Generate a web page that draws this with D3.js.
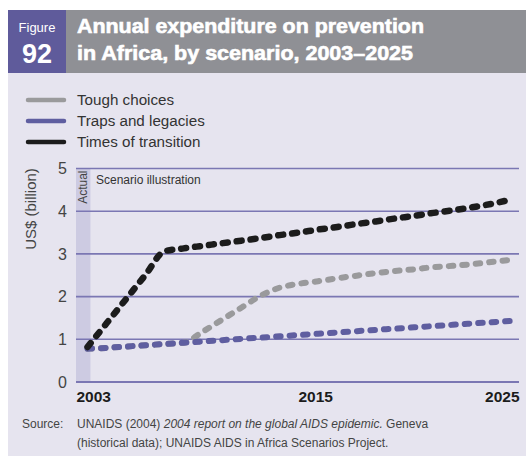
<!DOCTYPE html>
<html>
<head>
<meta charset="utf-8">
<script src="https://cdn.jsdelivr.net/npm/d3@7"></script>
<style>
  html, body { margin: 0; padding: 0; background: #ffffff; }
  svg { display: block; font-family: "Liberation Sans", Arial, Helvetica, sans-serif; }
</style>
</head>
<body>
<svg id="chart" width="526" height="461"></svg>
<script>
// Annual expenditure on prevention in Africa, US$ billion, by scenario
const years = d3.range(2003, 2026);
const toughChoices = [0.78, 0.80, 0.83, 0.86, 0.89, 0.92, 1.18, 1.46, 1.74, 2.02, 2.21, 2.30,
                      2.36, 2.43, 2.49, 2.55, 2.60, 2.64, 2.69, 2.72, 2.76, 2.81, 2.86];
const trapsAndLegacies = [0.78, 0.80, 0.83, 0.86, 0.89, 0.92, 0.95, 0.98, 1.01, 1.04, 1.07, 1.10,
                          1.13, 1.16, 1.19, 1.22, 1.25, 1.28, 1.31, 1.34, 1.37, 1.40, 1.43];
const timesOfTransition = [0.82, 1.38, 1.94, 2.50, 3.06, 3.13, 3.19, 3.25, 3.31, 3.37, 3.44, 3.50,
                           3.57, 3.63, 3.70, 3.76, 3.83, 3.89, 3.96, 4.02, 4.09, 4.17, 4.27];
const seriesNames = ["Tough choices", "Traps and legacies", "Times of transition"];
const seriesColors = ["#9a9a9c", "#5f5ea0", "#1c1c1c"];
const yTicks = [0, 1, 2, 3, 4, 5];
const xTicks = [2003, 2015, 2025];
const actualYears = [2002.4, 2003.15];

const svg = d3.select("#chart");

// panel background
svg.append("rect").attr("x", 8).attr("y", 73).attr("width", 518).attr("height", 383).attr("fill", "#e6e4ef");

// header
svg.append("rect").attr("x", 8).attr("y", 10).attr("width", 58).attr("height", 63).attr("fill", "#5f5b9b");
svg.append("rect").attr("x", 66).attr("y", 10).attr("width", 460).attr("height", 63).attr("fill", "#8f9095");
svg.append("text").attr("x", 37).attr("y", 32).attr("text-anchor", "middle")
  .attr("fill", "#ffffff").attr("font-size", 13).attr("font-family", "'Liberation Sans Narrow', 'Liberation Sans', Arial")
  .text("Figure");
svg.append("text").attr("x", 37).attr("y", 63).attr("text-anchor", "middle")
  .attr("fill", "#ffffff").attr("font-size", 27).attr("font-weight", "bold")
  .attr("font-family", "'Liberation Sans Narrow', 'Liberation Sans', Arial")
  .text("92");
const titleLines = ["Annual expenditure on prevention", "in Africa, by scenario, 2003\u20132025"];
const titleWidths = [347, 336];
svg.append("g").selectAll("text").data(titleLines).join("text")
  .attr("x", 77).attr("y", (d, i) => 33 + i * 27)
  .attr("fill", "#ffffff").attr("font-size", 20).attr("font-weight", "bold")
  .attr("font-family", "'Liberation Sans', Arial")
  .attr("stroke", "#ffffff").attr("stroke-width", 0.6)
  .attr("textLength", (d, i) => titleWidths[i]).attr("lengthAdjust", "spacingAndGlyphs")
  .text(d => d);

// legend
const legend = svg.append("g");
seriesNames.forEach((name, i) => {
  const y = 100 + i * 21;
  legend.append("line").attr("x1", 28).attr("x2", 64).attr("y1", y).attr("y2", y)
    .attr("stroke", seriesColors[i]).attr("stroke-width", 4.5).attr("stroke-linecap", "round");
  legend.append("text").attr("x", 77).attr("y", y + 5).attr("font-size", 15.2)
    .attr("fill", "#333333").text(name);
});

// scales
const x = d3.scaleLinear().domain([2002.4, 2025.45]).range([76, 519]);
const y = d3.scaleLinear().domain([0, 5]).range([382, 168.5]);

// actual-data band
svg.append("rect")
  .attr("x", x(actualYears[0])).attr("y", y(5))
  .attr("width", x(actualYears[1]) - x(actualYears[0])).attr("height", y(0) - y(5))
  .attr("fill", "#cdcbe2");

// gridlines
svg.append("g").selectAll("line").data(yTicks).join("line")
  .attr("x1", x.range()[0]).attr("x2", x.range()[1])
  .attr("y1", d => y(d)).attr("y2", d => y(d))
  .attr("stroke", "#7b77b3").attr("stroke-width", d => d === 0 ? 2.2 : 1.6);

// y axis labels
const yAxis = d3.axisLeft(y).tickValues(yTicks).tickSize(0).tickPadding(0).tickFormat(d3.format("d"));
const yg = svg.append("g").attr("transform", "translate(67,0)").call(yAxis);
yg.select(".domain").remove();
yg.selectAll("text").attr("font-size", 16).attr("fill", "#444444")
  .attr("font-family", "'Liberation Sans', Arial").attr("dy", "0.32em");

svg.append("text")
  .attr("transform", "translate(36,209) rotate(-90)")
  .attr("text-anchor", "middle").attr("font-size", 15).attr("fill", "#444444")
  .text("US$ (billion)");

// x axis labels
const xAxis = d3.axisBottom(x).tickValues(xTicks).tickSize(0).tickPadding(0).tickFormat(d3.format("d"));
const xg = svg.append("g").attr("transform", `translate(0,${y(0) + 20})`).call(xAxis);
xg.select(".domain").remove();
xg.selectAll(".tick text")
  .attr("font-size", 15.5).attr("font-weight", "bold").attr("fill", "#1c1c1c")
  .attr("dy", 0)
  .attr("text-anchor", (d, i) => i === 0 ? "start" : i === xTicks.length - 1 ? "end" : "middle")
  .attr("x", (d, i) => i === 0 ? x.range()[0] - x(d) : i === xTicks.length - 1 ? x.range()[1] - x(d) : -3);

// annotations
svg.append("text")
  .attr("transform", `translate(${x(actualYears[1]) - 3},${y(5) + 2}) rotate(-90)`)
  .attr("text-anchor", "end").attr("font-size", 12).attr("fill", "#444444")
  .text("Actual");
svg.append("text").attr("x", 96).attr("y", y(5) + 15)
  .attr("font-size", 12).attr("fill", "#333333").text("Scenario illustration");

// scenario lines
const seriesValues = [toughChoices, trapsAndLegacies, timesOfTransition];
const line = d3.line().x(d => x(d[0])).y(d => y(d[1])).curve(d3.curveMonotoneX);
// draw grey first, purple over it, black on top
[0, 1, 2].forEach(i => {
  svg.append("path")
    .datum(years.map((yr, j) => [yr, seriesValues[i][j]]))
    .attr("d", line)
    .attr("fill", "none")
    .attr("stroke", seriesColors[i])
    .attr("stroke-width", i === 2 ? 6.5 : 6)
    .attr("stroke-linecap", "round")
    .attr("stroke-dasharray", i === 2 ? "5,9" : "4.5,9");
});

// source
const src = svg.append("g").attr("font-size", 12).attr("fill", "#444444");
src.append("text").attr("x", 22).attr("y", 428).text("Source:");
const s1 = src.append("text").attr("x", 77).attr("y", 428);
s1.append("tspan").text("UNAIDS (2004) ");
s1.append("tspan").attr("font-style", "italic").text("2004 report on the global AIDS epidemic.");
s1.append("tspan").text(" Geneva");
src.append("text").attr("x", 77).attr("y", 447).text("(historical data); UNAIDS AIDS in Africa Scenarios Project.");
</script>
</body>
</html>
